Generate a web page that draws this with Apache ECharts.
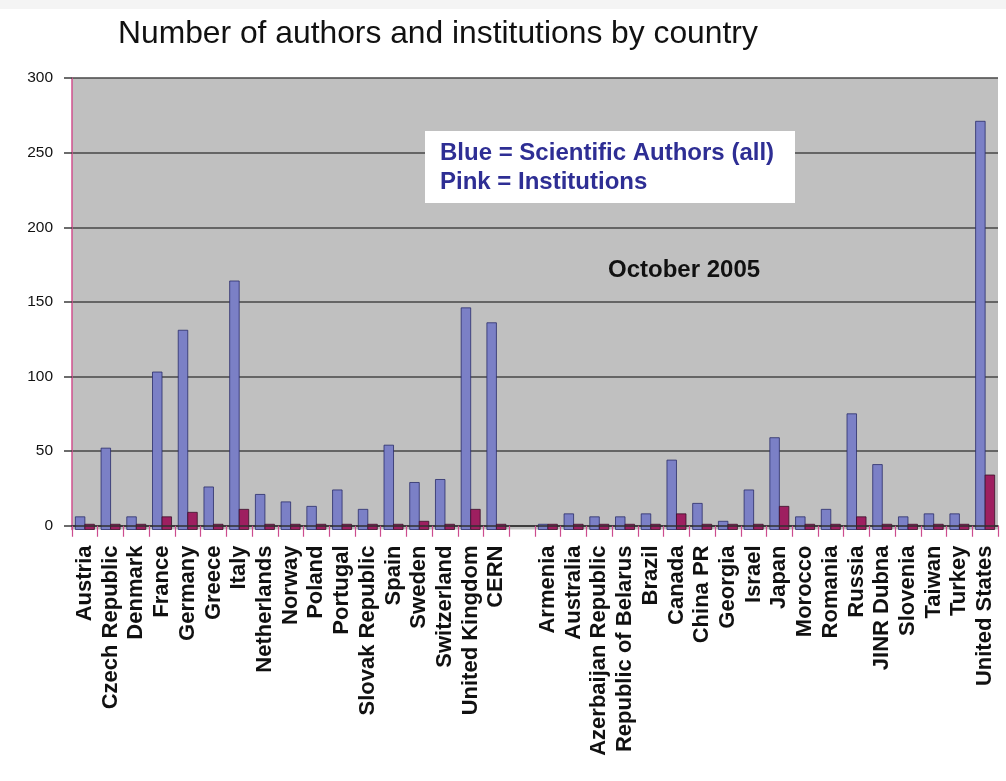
<!DOCTYPE html>
<html>
<head>
<meta charset="utf-8">
<script src="https://cdn.jsdelivr.net/npm/echarts@6/dist/echarts.min.js"></script>
<style>
  html, body { margin: 0; padding: 0; background: #ffffff; }
  #chart { width: 1006px; height: 781px; }
</style>
</head>
<body>
<div id="chart"></div>
<script>
// Countries in plotting order; the empty entry separates the two groups.
const countries = [
  'Austria', 'Czech Republic', 'Denmark', 'France', 'Germany', 'Greece', 'Italy',
  'Netherlands', 'Norway', 'Poland', 'Portugal', 'Slovak Republic', 'Spain',
  'Sweden', 'Switzerland', 'United Kingdom', 'CERN', '',
  'Armenia', 'Australia', 'Azerbaijan Republic', 'Republic of Belarus', 'Brazil',
  'Canada', 'China PR', 'Georgia', 'Israel', 'Japan', 'Morocco', 'Romania',
  'Russia', 'JINR Dubna', 'Slovenia', 'Taiwan', 'Turkey', 'United States'
];

// Scientific authors per country
const authors = [
  6, 52, 6, 103, 131, 26, 164, 21, 16, 13, 24, 11, 54, 29, 31, 146, 136, null,
  1, 8, 6, 6, 8, 44, 15, 3, 24, 59, 6, 11, 75, 41, 6, 8, 8, 271
];

// Institutions per country
const institutions = [
  1, 1, 1, 6, 9, 1, 11, 1, 1, 1, 1, 1, 1, 3, 1, 11, 1, null,
  1, 1, 1, 1, 1, 8, 1, 1, 1, 13, 1, 1, 6, 1, 1, 1, 1, 34
];

const valueTicks = [0, 50, 100, 150, 200, 250, 300];

// The value axis reaches a little below zero; bars rise from the bottom of the plot.
const AXIS_MIN = -2.5;
const AXIS_MAX = 300;

function toPoints(values) {
  return values.map((v, i) => (v == null ? null : [i, v])).filter(Boolean);
}

// side -1: bar sits left of the category centre, +1: right of it
function barShape(side) {
  return function (params, api) {
    const idx = api.value(0);
    const v = api.value(1);
    const band = api.size([1, 0])[0];
    const w = band * 0.37;
    const base = api.coord([idx, AXIS_MIN]);
    const top = api.coord([idx, v]);
    return {
      type: 'rect',
      shape: {
        x: side < 0 ? base[0] - w : base[0],
        y: top[1],
        width: w,
        height: base[1] - top[1]
      },
      style: api.style()
    };
  };
}

const FONT = "'Liberation Sans', Arial, sans-serif";
const NOTE_FONT = "bold 24px 'Liberation Sans', Arial, sans-serif";

const chart = echarts.init(document.getElementById('chart'), null, { renderer: 'canvas' });

chart.setOption({
  backgroundColor: '#ffffff',
  animation: false,
  title: {
    text: 'Number of authors and institutions by country',
    left: 113,
    top: 13,
    textStyle: { fontFamily: FONT, fontSize: 31.8, fontWeight: 'normal', color: '#111111' }
  },
  grid: {
    left: 72,
    right: 8,
    top: 78,
    bottom: 251.5,
    show: true,
    backgroundColor: '#c0c0c0',
    borderWidth: 0
  },
  xAxis: {
    type: 'category',
    data: countries,
    z: 5,
    axisLine: { onZero: true, lineStyle: { color: '#303030', width: 1.6 } },
    axisTick: { show: true, length: 11, lineStyle: { color: '#cc4c8e', width: 1.2 } },
    axisLabel: {
      interval: 0,
      rotate: 90,
      margin: 16,
      fontFamily: FONT,
      fontSize: 22,
      fontWeight: 'bold',
      color: '#111111'
    },
    splitLine: { show: false }
  },
  yAxis: {
    type: 'value',
    min: AXIS_MIN,
    max: AXIS_MAX,
    axisLine: { show: true, lineStyle: { color: '#d0508e', width: 1.5 } },
    axisTick: {
      show: true,
      customValues: valueTicks,
      length: 8,
      lineStyle: { color: '#3c3c3c', width: 1.5 }
    },
    axisLabel: {
      customValues: valueTicks,
      margin: 19,
      fontFamily: FONT,
      fontSize: 15.5,
      color: '#111111'
    },
    splitLine: { show: true, lineStyle: { color: '#474747', width: 1.7 } }
  },
  series: [
    {
      name: 'Scientific Authors (all)',
      type: 'custom',
      renderItem: barShape(-1),
      encode: { x: 0, y: 1 },
      itemStyle: { color: '#7b80c6', borderColor: '#2a2c6a', borderWidth: 0.8 },
      data: toPoints(authors),
      z: 2
    },
    {
      name: 'Institutions',
      type: 'custom',
      renderItem: barShape(1),
      encode: { x: 0, y: 1 },
      itemStyle: { color: '#9e1f60', borderColor: '#3a1028', borderWidth: 0.8 },
      data: toPoints(institutions),
      z: 2
    }
  ],
  graphic: [
    {
      type: 'rect',
      left: 0, top: 0, z: -1,
      shape: { width: 1006, height: 9 },
      style: { fill: '#f4f4f4' }
    },
    {
      type: 'rect',
      left: 425, top: 131, z: 100,
      shape: { width: 370, height: 72 },
      style: { fill: '#ffffff' }
    },
    {
      type: 'text',
      left: 440, top: 141, z: 101,
      style: { text: 'Blue = Scientific Authors (all)', font: NOTE_FONT, fill: '#2e2e94' }
    },
    {
      type: 'text',
      left: 440, top: 170, z: 101,
      style: { text: 'Pink = Institutions', font: NOTE_FONT, fill: '#2e2e94' }
    },
    {
      type: 'text',
      left: 608, top: 258, z: 101,
      style: { text: 'October 2005', font: NOTE_FONT, fill: '#111111' }
    }
  ]
});
</script>
</body>
</html>
